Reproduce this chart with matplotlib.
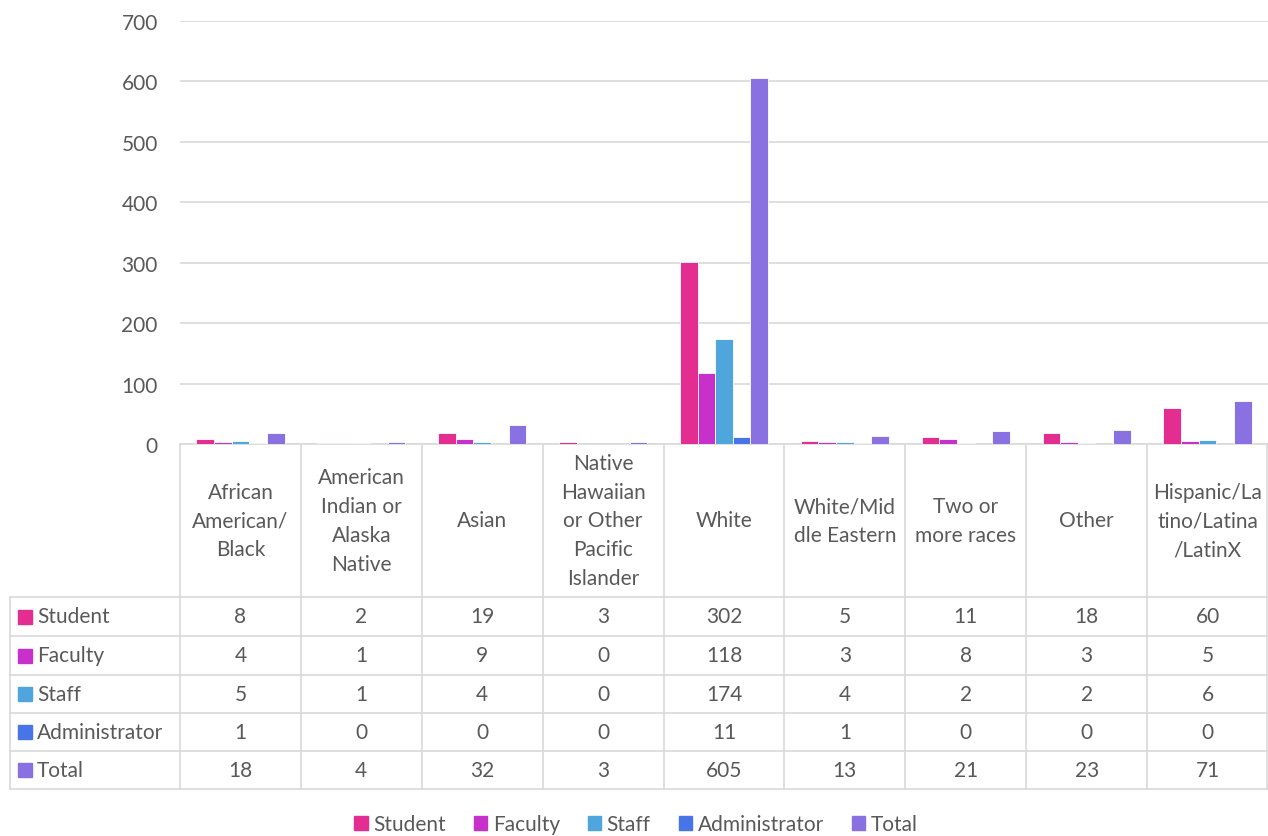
import numpy as np
import matplotlib.pyplot as plt
from matplotlib.lines import Line2D
from matplotlib.patches import Rectangle

plt.rcParams['font.family'] = ['Lato', 'DejaVu Sans']

CATEGORIES = ['African\nAmerican/\nBlack', 'American\nIndian or\nAlaska\nNative', 'Asian',
              'Native\nHawaiian\nor Other\nPacific\nIslander', 'White', 'White/Mid\ndle Eastern',
              'Two or\nmore races', 'Other', 'Hispanic/La\ntino/Latina\n/LatinX']
SERIES = ['Student', 'Faculty', 'Staff', 'Administrator', 'Total']
STUDENT = [8, 2, 19, 3, 302, 5, 11, 18, 60]
FACULTY = [4, 1, 9, 0, 118, 3, 8, 3, 5]
STAFF = [5, 1, 4, 0, 174, 4, 2, 2, 6]
ADMINISTRATOR = [1, 0, 0, 0, 11, 1, 0, 0, 0]
TOTAL = [18, 4, 32, 3, 605, 13, 21, 23, 71]
YTICKS = [0, 100, 200, 300, 400, 500, 600, 700]

COLORS = ['#E32D91', '#C830CC', '#4EA6DC', '#4775E7', '#8971E1']
GRID = '#D9D9D9'
TXT = '#595959'
FS = 15

W, H = 1268, 837
fig = plt.figure(figsize=(W / 100, H / 100), dpi=100)


def fx(x):
    return x / W


def fy(y):
    return 1 - y / H


# plot area in pixels
L, R, T, B = 180, 1268, 22, 445
ax = fig.add_axes([fx(L), fy(B), fx(R - L), (B - T) / H])

values = [STUDENT, FACULTY, STAFF, ADMINISTRATOR, TOTAL]
n = len(CATEGORIES)
x = np.arange(n)
bw = 0.146
for i, (vals, c) in enumerate(zip(values, COLORS)):
    ax.bar(x + (i - 2) * bw, vals, width=bw, color=c, edgecolor='white', linewidth=0.6, zorder=3)

ax.set_xlim(-0.5, n - 0.5)
ax.set_ylim(0, 700)
ax.set_yticks(YTICKS)
ax.tick_params(axis='y', length=0, labelsize=FS, labelcolor=TXT, pad=16)
ax.set_xticks([])
ax.yaxis.grid(True, color=GRID, linewidth=1.2, zorder=0)
for s in ['left', 'right', 'top']:
    ax.spines[s].set_visible(False)
ax.spines['bottom'].set_color(GRID)
ax.spines['bottom'].set_linewidth(1.2)

# data table below the plot
cw = (R - L) / n
row_edges = [445, 598, 637, 676, 714, 752, 790]
TL = 10


def hline(x0, x1, y):
    fig.add_artist(Line2D([fx(x0), fx(x1)], [fy(y), fy(y)], color=GRID, lw=1.2))


def vline(x0, y0, y1):
    fig.add_artist(Line2D([fx(x0), fx(x0)], [fy(y0), fy(y1)], color=GRID, lw=1.2))


for y in row_edges[1:]:
    hline(TL, R, y)
for k in range(n + 1):
    vline(min(L + k * cw, R - 1), 445, 790)
vline(TL, 598, 790)

for k, cat in enumerate(CATEGORIES):
    cx = L + (k + 0.5) * cw
    fig.text(fx(cx), fy((445 + 598) / 2), cat, ha='center', va='center', fontsize=FS,
             color=TXT, linespacing=1.55)
    for r, vals in enumerate(values):
        ym = (row_edges[r + 1] + row_edges[r + 2]) / 2
        fig.text(fx(cx), fy(ym), str(vals[k]), ha='center', va='center', fontsize=FS, color=TXT)

for r, (name, c) in enumerate(zip(SERIES, COLORS)):
    ym = (row_edges[r + 1] + row_edges[r + 2]) / 2
    fig.add_artist(Rectangle((fx(18), fy(ym + 7)), fx(14), 14 / H, color=c))
    fig.text(fx(37), fy(ym), name, ha='left', va='center', fontsize=FS, color=TXT)

# legend
handles = [Rectangle((0, 0), 1, 1, color=c) for c in COLORS]
fig.legend(handles, SERIES, loc='center', bbox_to_anchor=(fx(636), fy(825)), ncol=5,
           frameon=False, fontsize=FS, labelcolor=TXT, handlelength=0.65, handleheight=0.65,
           handletextpad=0.25, columnspacing=1.35)

fig.savefig('out.png', dpi=100)
